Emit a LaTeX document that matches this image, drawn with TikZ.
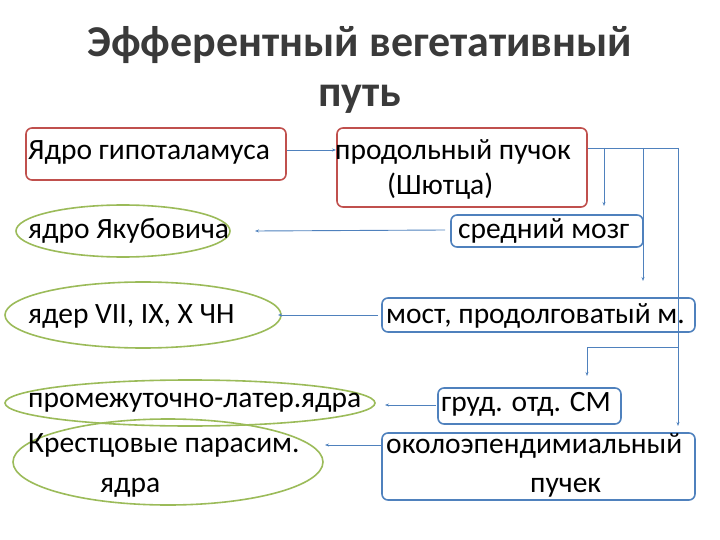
\documentclass[tikz,border=0pt]{standalone}
\usepackage{fontspec}
\setmainfont{Carlito}
\usetikzlibrary{arrows.meta}
\definecolor{rd}{HTML}{C0504D}
\definecolor{bl}{HTML}{4F81BD}
\definecolor{gr}{HTML}{9BBB59}
\definecolor{tt}{HTML}{3A3A3A}
\tikzset{
 box/.style={rounded corners=6pt,line width=1.6pt,inner sep=0pt},
 rbox/.style={box,draw=rd},
 bbox/.style={box,draw=bl},
 ell/.style={draw=gr,line width=1.6pt},
 conn/.style={draw=bl,line width=0.9pt,-{Stealth[length=4pt,width=3pt]}},
 lbl/.style={font=\fontsize{29.5}{34}\selectfont,inner sep=0pt,anchor=west},
}
\begin{document}
\begin{tikzpicture}[x=1pt,y=-1pt]
\useasboundingbox (0,0) rectangle (720,540);
\node[font=\bfseries\fontsize{44}{50}\selectfont,text=tt,align=center] (title) at (360,70) {Эфферентный вегетативный\\путь};
% boxes
\draw[rbox] (26,128) rectangle (286,180);
\node[lbl] (a) at (28,152) {Ядро гипоталамуса};
\coordinate (aE) at (287,150);
\draw[rbox] (337,128) rectangle (587,207);
\node[lbl] (b1) at (335,152) {продольный пучок};
\node[lbl] (b2) at (387,186) {(Шютца)};
\coordinate (bW) at (336,150);
\coordinate (bE) at (588,148);
\draw[bbox] (451,215) rectangle (643,247);
\node[lbl] (c) at (458,231) {средний мозг};
\coordinate (cW) at (445,230);
\draw[bbox] (382,298) rectangle (695,332);
\node[lbl] (d) at (386,316) {мост, продолговатый м.};
\coordinate (dW) at (378,315);
\draw[bbox] (438,388) rectangle (621,424);
\node[lbl] (e) at (441,404) {груд. отд. СМ};
\coordinate (eW) at (436,405);
\draw[bbox] (382,433) rectangle (695,500);
\node[lbl] (f1) at (386,446) {околоэпендимиальный};
\node[lbl] (f2) at (530,488) {пучек};
\coordinate (fW) at (382,445);
% ellipses
\draw[ell] (123,231) ellipse [x radius=107,y radius=26];
\node[lbl] (g1) at (28,231) {ядро Якубовича};
\draw[ell] (143,315) ellipse [x radius=138,y radius=33];
\node[lbl] (g2) at (28,316) {ядер VII, IX, X ЧН};
\draw[ell] (190,403) ellipse [x radius=185,y radius=23];
\node[lbl] (g3) at (28,403) {промежуточно-латер.ядра};
\draw[ell] (168,462) ellipse [x radius=155,y radius=43];
\node[lbl] (g4) at (28,445) {Крестцовые парасим.};
\node[lbl] (g5) at (100,488) {ядра};
\coordinate (g1E) at (255,231);
\coordinate (g2E) at (278,315);
\coordinate (g3E) at (385,405);
\coordinate (g4E) at (325,445);
% connectors
\draw[conn] (aE) -- (bW);
\draw[conn] (cW) -- (g1E);
\draw[conn] (dW) -- (g2E);
\draw[conn] (eW) -- (g3E);
\draw[conn] (fW) -- (g4E);
\coordinate (r0) at (678,148);
\draw[draw=bl,line width=0.9pt] (bE) -- (r0);
\draw[conn] (604,148) -- (604,206);
\draw[conn] (643,148) -- (643,281);
\draw[conn] (r0) -- (678,426);
\draw[conn] (678,347) -- (587,347) -- (587,376);
\end{tikzpicture}
\end{document}
